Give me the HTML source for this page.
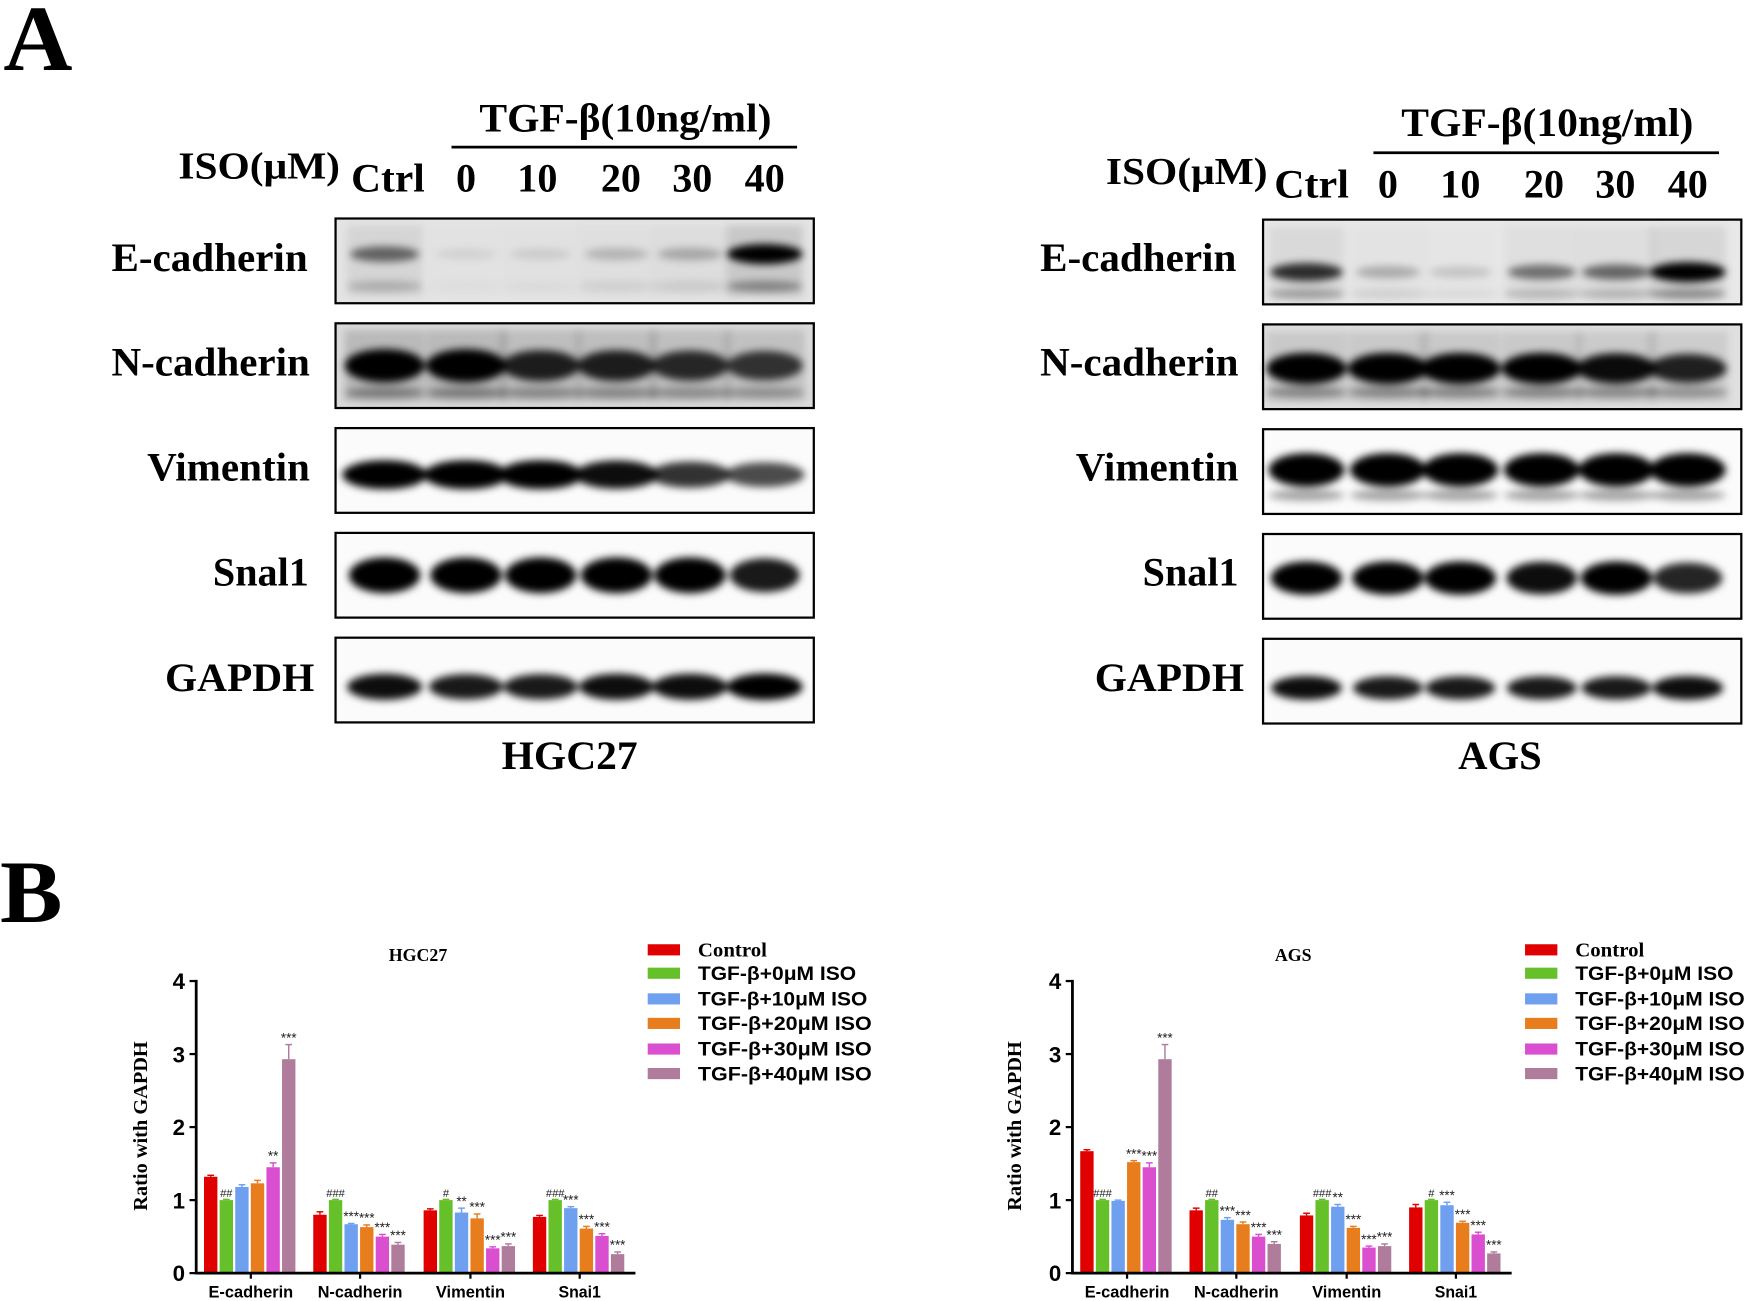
<!DOCTYPE html>
<html><head><meta charset="utf-8"><style>
html,body{margin:0;padding:0;background:#fff;}
svg{display:block;}
.s{font-family:"Liberation Serif",serif;font-weight:bold;fill:#000;}
.a{font-family:"Liberation Sans",sans-serif;font-weight:bold;fill:#000;}
</style></head><body>
<svg id="svg" width="1748" height="1301" viewBox="0 0 1568 1167" preserveAspectRatio="none" xmlns="http://www.w3.org/2000/svg">
<defs>
<filter id="bl" x="-50%" y="-100%" width="200%" height="300%"><feGaussianBlur stdDeviation="3.5"/></filter>
</defs>
<rect width="1568" height="1167" fill="#fff"/>
<text class="s" x="3" y="63" font-size="84" textLength="62" lengthAdjust="spacingAndGlyphs">A</text>
<text class="s" x="0" y="827" font-size="80" textLength="56" lengthAdjust="spacingAndGlyphs">B</text>

<text class="s" x="160" y="160" font-size="34" textLength="145" lengthAdjust="spacingAndGlyphs">ISO(μM)</text>
<text class="s" x="315" y="172" font-size="36" textLength="66" lengthAdjust="spacingAndGlyphs">Ctrl</text>
<text class="s" x="418" y="172" font-size="36" text-anchor="middle">0</text>
<text class="s" x="482" y="172" font-size="36" text-anchor="middle">10</text>
<text class="s" x="557" y="172" font-size="36" text-anchor="middle">20</text>
<text class="s" x="621" y="172" font-size="36" text-anchor="middle">30</text>
<text class="s" x="686" y="172" font-size="36" text-anchor="middle">40</text>
<text class="s" x="430" y="118" font-size="36" textLength="262" lengthAdjust="spacingAndGlyphs">TGF-β(10ng/ml)</text>
<line x1="405" y1="132" x2="715" y2="132" stroke="#000" stroke-width="2.5"/>
<text class="s" x="100" y="243" font-size="36" textLength="176" lengthAdjust="spacingAndGlyphs">E-cadherin</text>
<text class="s" x="100" y="337" font-size="36" textLength="178" lengthAdjust="spacingAndGlyphs">N-cadherin</text>
<text class="s" x="132" y="431" font-size="36" textLength="146" lengthAdjust="spacingAndGlyphs">Vimentin</text>
<text class="s" x="191" y="525" font-size="36" textLength="86" lengthAdjust="spacingAndGlyphs">Snal1</text>
<text class="s" x="148" y="620" font-size="36" textLength="134" lengthAdjust="spacingAndGlyphs">GAPDH</text>
<text class="s" x="450" y="690" font-size="36" textLength="122" lengthAdjust="spacingAndGlyphs">HGC27</text>

<text class="s" x="992" y="165" font-size="34" textLength="145" lengthAdjust="spacingAndGlyphs">ISO(μM)</text>
<text class="s" x="1143" y="177" font-size="36" textLength="67" lengthAdjust="spacingAndGlyphs">Ctrl</text>
<text class="s" x="1245" y="177" font-size="36" text-anchor="middle">0</text>
<text class="s" x="1310" y="177" font-size="36" text-anchor="middle">10</text>
<text class="s" x="1385" y="177" font-size="36" text-anchor="middle">20</text>
<text class="s" x="1449" y="177" font-size="36" text-anchor="middle">30</text>
<text class="s" x="1514" y="177" font-size="36" text-anchor="middle">40</text>
<text class="s" x="1257" y="122" font-size="36" textLength="262" lengthAdjust="spacingAndGlyphs">TGF-β(10ng/ml)</text>
<line x1="1232" y1="137" x2="1542" y2="137" stroke="#000" stroke-width="2.5"/>
<text class="s" x="933" y="243" font-size="36" textLength="176" lengthAdjust="spacingAndGlyphs">E-cadherin</text>
<text class="s" x="933" y="337" font-size="36" textLength="178" lengthAdjust="spacingAndGlyphs">N-cadherin</text>
<text class="s" x="965" y="431" font-size="36" textLength="146" lengthAdjust="spacingAndGlyphs">Vimentin</text>
<text class="s" x="1025" y="525" font-size="36" textLength="86" lengthAdjust="spacingAndGlyphs">Snal1</text>
<text class="s" x="982" y="620" font-size="36" textLength="134" lengthAdjust="spacingAndGlyphs">GAPDH</text>
<text class="s" x="1308" y="690" font-size="36" textLength="75" lengthAdjust="spacingAndGlyphs">AGS</text>

<g id="blots"></g>

<text class="s" x="375" y="862" font-size="16" text-anchor="middle">HGC27</text>
<text class="s" x="1160" y="862" font-size="16" text-anchor="middle">AGS</text>
<text class="s" transform="translate(132,1010) rotate(-90)" font-size="18" text-anchor="middle" textLength="152" lengthAdjust="spacingAndGlyphs">Ratio with GAPDH</text>
<text class="s" transform="translate(916,1010) rotate(-90)" font-size="18" text-anchor="middle" textLength="152" lengthAdjust="spacingAndGlyphs">Ratio with GAPDH</text>

<g>
<rect x="581" y="847" width="29" height="10" fill="#e00000"/><text class="s" x="626" y="858" font-size="18" textLength="62" lengthAdjust="spacingAndGlyphs">Control</text>
<rect x="581" y="868" width="29" height="10" fill="#66c02a"/><text class="a" x="626" y="879" font-size="17" textLength="142" lengthAdjust="spacingAndGlyphs">TGF-β+0μM ISO</text>
<rect x="581" y="891" width="29" height="10" fill="#6fa0f0"/><text class="a" x="626" y="902" font-size="17" textLength="152" lengthAdjust="spacingAndGlyphs">TGF-β+10μM ISO</text>
<rect x="581" y="913" width="29" height="10" fill="#e87d1e"/><text class="a" x="626" y="924" font-size="17" textLength="156" lengthAdjust="spacingAndGlyphs">TGF-β+20μM  ISO</text>
<rect x="581" y="936" width="29" height="10" fill="#d94fd0"/><text class="a" x="626" y="947" font-size="17" textLength="156" lengthAdjust="spacingAndGlyphs">TGF-β+30μM  ISO</text>
<rect x="581" y="958" width="29" height="10" fill="#b07c9c"/><text class="a" x="626" y="969" font-size="17" textLength="156" lengthAdjust="spacingAndGlyphs">TGF-β+40μM  ISO</text>
</g>
<g transform="translate(787,0)">
<rect x="581" y="847" width="29" height="10" fill="#e00000"/><text class="s" x="626" y="858" font-size="18" textLength="62" lengthAdjust="spacingAndGlyphs">Control</text>
<rect x="581" y="868" width="29" height="10" fill="#66c02a"/><text class="a" x="626" y="879" font-size="17" textLength="142" lengthAdjust="spacingAndGlyphs">TGF-β+0μM ISO</text>
<rect x="581" y="891" width="29" height="10" fill="#6fa0f0"/><text class="a" x="626" y="902" font-size="17" textLength="152" lengthAdjust="spacingAndGlyphs">TGF-β+10μM ISO</text>
<rect x="581" y="913" width="29" height="10" fill="#e87d1e"/><text class="a" x="626" y="924" font-size="17" textLength="152" lengthAdjust="spacingAndGlyphs">TGF-β+20μM  ISO</text>
<rect x="581" y="936" width="29" height="10" fill="#d94fd0"/><text class="a" x="626" y="947" font-size="17" textLength="152" lengthAdjust="spacingAndGlyphs">TGF-β+30μM  ISO</text>
<rect x="581" y="958" width="29" height="10" fill="#b07c9c"/><text class="a" x="626" y="969" font-size="17" textLength="152" lengthAdjust="spacingAndGlyphs">TGF-β+40μM  ISO</text>
</g>

<g>
<text class="a" x="166" y="887" font-size="20" text-anchor="end">4</text>
<text class="a" x="166" y="953" font-size="20" text-anchor="end">3</text>
<text class="a" x="166" y="1018" font-size="20" text-anchor="end">2</text>
<text class="a" x="166" y="1084" font-size="20" text-anchor="end">1</text>
<text class="a" x="166" y="1149" font-size="20" text-anchor="end">0</text>
<text class="a" x="225" y="1164" font-size="15" text-anchor="middle" textLength="76" lengthAdjust="spacingAndGlyphs">E-cadherin</text>
<text class="a" x="323" y="1164" font-size="15" text-anchor="middle" textLength="76" lengthAdjust="spacingAndGlyphs">N-cadherin</text>
<text class="a" x="422" y="1164" font-size="15" text-anchor="middle" textLength="62" lengthAdjust="spacingAndGlyphs">Vimentin</text>
<text class="a" x="520" y="1164" font-size="15" text-anchor="middle" textLength="38" lengthAdjust="spacingAndGlyphs">Snai1</text>
</g>
<g transform="translate(786,0)">
<text class="a" x="166" y="887" font-size="20" text-anchor="end">4</text>
<text class="a" x="166" y="953" font-size="20" text-anchor="end">3</text>
<text class="a" x="166" y="1018" font-size="20" text-anchor="end">2</text>
<text class="a" x="166" y="1084" font-size="20" text-anchor="end">1</text>
<text class="a" x="166" y="1149" font-size="20" text-anchor="end">0</text>
<text class="a" x="225" y="1164" font-size="15" text-anchor="middle" textLength="76" lengthAdjust="spacingAndGlyphs">E-cadherin</text>
<text class="a" x="323" y="1164" font-size="15" text-anchor="middle" textLength="76" lengthAdjust="spacingAndGlyphs">N-cadherin</text>
<text class="a" x="422" y="1164" font-size="15" text-anchor="middle" textLength="62" lengthAdjust="spacingAndGlyphs">Vimentin</text>
<text class="a" x="520" y="1164" font-size="15" text-anchor="middle" textLength="38" lengthAdjust="spacingAndGlyphs">Snai1</text>
</g>
<g id="charts"></g>
</svg>
<script>
var NS="http://www.w3.org/2000/svg";
function el(p,t,a,txt){var e=document.createElementNS(NS,t);for(var k in a)e.setAttribute(k,a[k]);if(txt!=null)e.textContent=txt;p.appendChild(e);return e;}
var B=document.getElementById("blots");
function panel(x0,x1,tops,lanes,rows){
  rows.forEach(function(r,i){
    var t=tops[i],h=76;
    el(B,"rect",{x:x0,y:t,width:x1-x0,height:h,fill:r.bg});
    var g=el(B,"g",{filter:"url(#bl)"});
    lanes.forEach(function(cx,j){
      var v=r.v[j]; if(v<=0)return;
      if(r.smear) el(g,"rect",{x:cx-r.rx,y:t+6,width:r.rx*2,height:h-12,fill:"rgba(0,0,0,"+(r.smear*v)+")"});
      el(g,"ellipse",{cx:cx,cy:t+h*r.y,rx:r.rx*(0.8+0.2*v),ry:r.ry*(0.5+0.5*v),fill:"rgba(0,0,0,"+Math.min(1,v)+")"});
      if(r.y2) el(g,"ellipse",{cx:cx,cy:t+h*r.y2,rx:r.rx,ry:5,fill:"rgba(0,0,0,"+(0.35*v)+")"});
    });
    el(B,"rect",{x:x0,y:t,width:x1-x0,height:h,fill:"none",stroke:"#000","stroke-width":2});
  });
}
panel(301,730,[196,290,384,478,572],[345,418,485,553,619,686],[
 {bg:"#e4e4e4",v:[0.55,0.08,0.1,0.2,0.25,1],y:0.42,y2:0.8,rx:34,ry:9,smear:0.12},
 {bg:"#dadada",v:[1,1,0.85,0.85,0.8,0.75],y:0.5,y2:0.82,rx:36,ry:15,smear:0.15},
 {bg:"#fbfbfb",v:[1,1,1,0.95,0.8,0.7],y:0.55,rx:38,ry:13},
 {bg:"#fbfbfb",v:[1,1,1,1,1,0.9],y:0.5,rx:32,ry:16},
 {bg:"#fbfbfb",v:[0.95,0.9,0.9,0.95,0.95,1],y:0.58,rx:34,ry:12}
]);
panel(1133,1562,[197,291,385,479,573],[1172,1245,1310,1383,1450,1514],[
 {bg:"#e8e8e8",v:[0.8,0.25,0.15,0.5,0.55,1],y:0.62,y2:0.88,rx:34,ry:9,smear:0.08},
 {bg:"#e0e0e0",v:[1,1,1,1,0.95,0.85],y:0.52,y2:0.8,rx:36,ry:14,smear:0.1},
 {bg:"#fbfbfb",v:[1,1,1,1,1,1],y:0.48,y2:0.78,rx:34,ry:15},
 {bg:"#fbfbfb",v:[1,1,1,0.95,1,0.85],y:0.52,rx:32,ry:15},
 {bg:"#fbfbfb",v:[0.95,0.9,0.9,0.9,0.9,0.95],y:0.58,rx:32,ry:11}
]);
var C=document.getElementById("charts");
var cols=["#e00000","#66c02a","#6fa0f0","#e87d1e","#d94fd0","#b07c9c"];
function chart(dx,vals,errs,ann){
  var ax=176+dx,y0=1142,u=65.5;
  var centers=[225,323,422,520];
  centers.forEach(function(c,gi){
    for(var j=0;j<6;j++){
      var x=c+dx-42+j*14,v=vals[gi][j],e=errs[gi][j];
      var top=y0-v*u;
      el(C,"line",{x1:x+6,x2:x+6,y1:top,y2:top-e*u,stroke:cols[j],"stroke-width":1.3});
      el(C,"line",{x1:x+3,x2:x+9,y1:top-e*u,y2:top-e*u,stroke:cols[j],"stroke-width":1.3});
      el(C,"rect",{x:x,y:top,width:12,height:v*u,fill:cols[j]});
      var a=ann[gi][j];
      if(a) el(C,"text",{x:x+6,y:top-e*u-2,"font-size":a[0]=="#"?10:12,"text-anchor":"middle","font-family":"Liberation Sans,sans-serif",fill:"#222"},a);
    }
    el(C,"line",{x1:c+dx,x2:c+dx,y1:y0,y2:y0+5,stroke:"#000","stroke-width":2});
  });
  el(C,"line",{x1:ax,x2:ax,y1:879,y2:y0+1,stroke:"#000","stroke-width":2.5});
  el(C,"line",{x1:ax-1,x2:570+dx,y1:y0,y2:y0,stroke:"#000","stroke-width":2.5});
  for(var k=0;k<=4;k++) el(C,"line",{x1:ax-6,x2:ax,y1:y0-k*u,y2:y0-k*u,stroke:"#000","stroke-width":2});
}
chart(0,[[1.32,1.0,1.18,1.23,1.45,2.93],[0.8,1.0,0.67,0.63,0.5,0.39],[0.86,1.0,0.83,0.75,0.34,0.37],[0.77,1.0,0.89,0.61,0.51,0.26]],
 [[0.02,0.01,0.03,0.04,0.06,0.2],[0.04,0.01,0.01,0.03,0.03,0.03],[0.02,0.01,0.06,0.06,0.02,0.03],[0.02,0.01,0.02,0.03,0.03,0.03]],
 [["","##","","","**","***"],["","###","***","***","***","***"],["","#","**","***","***","***"],["","###","***","***","***","***"]]);
chart(786,[[1.67,1.0,0.99,1.52,1.45,2.93],[0.86,1.0,0.73,0.67,0.5,0.4],[0.79,1.0,0.91,0.62,0.35,0.37],[0.9,1.0,0.93,0.69,0.53,0.27]],
 [[0.02,0.01,0.01,0.02,0.06,0.2],[0.03,0.01,0.03,0.03,0.03,0.03],[0.03,0.01,0.03,0.02,0.02,0.03],[0.04,0.01,0.04,0.02,0.03,0.02]],
 [["","###","","***","***","***"],["","##","***","***","***","***"],["","###","**","***","***","***"],["","#","***","***","***","***"]]);
</script>
</body></html>
